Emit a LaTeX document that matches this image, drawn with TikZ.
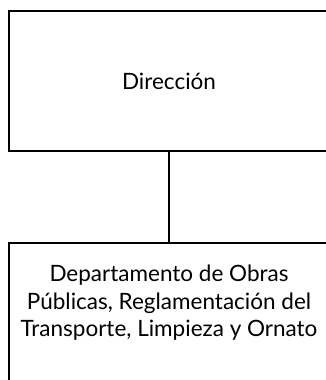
\documentclass[tikz,border=0pt]{standalone}
\usepackage{fontspec}
\setmainfont{Lato}
\begin{document}
\begin{tikzpicture}[x=1pt,y=1pt,
  orgbox/.style={draw=black,line width=1.8pt,minimum width=320pt,minimum height=140pt,inner sep=0pt},
  boxtext/.style={font=\fontsize{22.5}{27.5}\selectfont,align=center,text=black}]
\useasboundingbox (0,0) rectangle (326,380);
\node[orgbox,boxtext] (dir) at (169,299) {Dirección};
\node[orgbox,minimum height=150pt] (dep) at (169,62) {};
\node[boxtext] (deptxt) at (169,77) {Departamento de Obras\\Públicas, Reglamentación del\\Transporte, Limpieza y Ornato};
\draw[line width=1.8pt] (dir.south) -- (dep.north);
\end{tikzpicture}
\end{document}
